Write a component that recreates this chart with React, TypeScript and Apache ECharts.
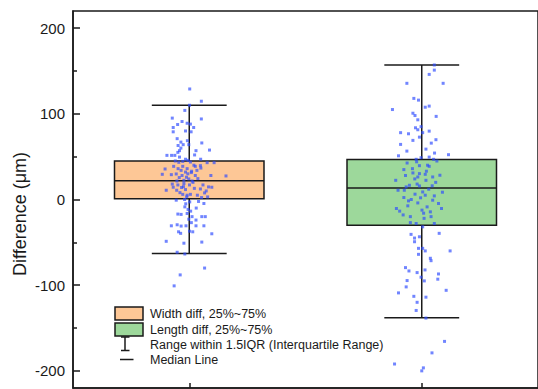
import React, { useEffect, useRef } from "react";
import * as echarts from "echarts";

// Categories and box statistics: [lower whisker, Q1, median, Q3, upper whisker]
const categories = ["Width diff", "Length diff"];
const boxStats: number[][] = [
  [-63, 1, 22, 45, 110],
  [-138, -30, 13.5, 46.8, 157],
];

// Jittered raw points: [horizontal jitter (fraction of category), difference in µm]
const widthPoints: number[][] = [
  [0.002, 129], [0.052, 114.7], [0.001, 110], [-0.019, 104], [-0.073, 95], [0.052, 94],
  [-0.031, 91], [-0.05, 87.5], [-0.009, 89], [0.005, 88], [-0.069, 84], [0.019, 84],
  [-0.069, 79], [-0.016, 80], [0.008, 79], [-0.052, 71], [-0.008, 68.6], [-0.036, 67],
  [0.054, 66], [-0.026, 64], [-0.048, 63], [-0.002, 64], [-0.036, 60], [-0.042, 57],
  [0.029, 57], [0.087, 57.7], [-0.049, 55], [-0.096, 51.5], [-0.076, 51.5], [-0.062, 51.5],
  [0.023, 52], [-0.042, 49.5], [-0.016, 47], [-0.005, 45.7], [0.049, 47], [-0.028, 44.5],
  [-0.045, 43.4], [0.005, 43.7], [0.077, 43], [0.107, 43], [-0.067, 38.7], [-0.028, 38.7],
  [0.026, 38.7], [0.048, 39.5], [-0.104, 35.6], [-0.048, 36], [-0.035, 34], [-0.009, 36],
  [0.033, 34], [0.05, 36.7], [-0.016, 32], [0.009, 31.4], [-0.116, 29.4], [-0.077, 29],
  [-0.056, 29.8], [-0.031, 28], [0.026, 28], [0.093, 28], [0.158, 27.5], [-0.043, 25.6],
  [-0.002, 24], [0.037, 24.4], [-0.053, 21.6], [-0.023, 22.4], [0.012, 21.6], [-0.073, 18],
  [-0.049, 17], [-0.023, 18.6], [0.001, 17], [0.059, 17], [0.083, 14.7], [0.097, 14.3],
  [-0.069, 14.3], [-0.033, 14], [0.022, 13], [0.048, 12.3], [-0.099, 10.8], [-0.054, 10.8],
  [-0.016, 11.6], [0.073, 10], [0.066, 7.7], [-0.028, 6], [-0.009, 5], [0.005, 6],
  [0.053, 2.3], [0.079, 3], [-0.011, 3], [-0.056, -0.8], [-0.02, 0], [0.002, -2.8],
  [0.04, -2.3], [0.063, -4.7], [-0.019, -8.6], [-0.005, -11.6], [0.006, -13.6], [-0.049, -17],
  [-0.035, -17.4], [-0.009, -16.3], [0.054, -20], [0.069, -20], [0.012, -20], [-0.002, -23],
  [0.029, -24], [0.009, -27], [-0.077, -30.7], [-0.052, -29.5], [-0.035, -31], [-0.014, -30.7],
  [0.029, -30.7], [0.063, -30.7], [-0.046, -37.7], [-0.037, -39.5], [0.001, -37], [0.015, -37.7],
  [0.097, -40], [-0.099, -48.8], [-0.023, -51], [0.054, -49.7], [-0.052, -61.6], [-0.019, -63.6],
  [0.066, -80], [-0.039, -88], [-0.065, -100.8],
  [-0.012, 26], [0.016, 20], [-0.006, 30], [0.02, 40], [-0.04, 8], [0.03, -10],
  [-0.025, 15], [0.01, 33], [-0.06, 45], [0.035, 5], [-0.015, -5],
];

const lengthPoints: number[][] = [
  [0.054, 157], [0.054, 151], [0.032, 146], [-0.064, 135.6], [0.092, 135.6], [-0.034, 118],
  [-0.014, 116], [0.032, 109], [0.015, 107.7], [-0.126, 105], [0.062, 97], [-0.038, 100.7],
  [-0.029, 98], [-0.017, 93], [-0.027, 83.7], [-0.003, 85], [-0.017, 81.4], [0.032, 79.8],
  [0.004, 78], [-0.091, 78], [-0.057, 76.7], [-0.01, 72.8], [-0.038, 69], [0.061, 69.8],
  [-0.091, 64.3], [0.041, 65.8], [0.018, 58.8], [-0.064, 56.5], [0.055, 54.2], [-0.1, 51],
  [0.115, 52.3], [-0.003, 48.8], [0.032, 49.5], [-0.024, 46.9], [0.051, 46.9], [0.065, 44.9],
  [-0.063, 42.6], [-0.01, 39.5], [0.032, 38.7], [-0.077, 34.9], [-0.038, 31], [-0.01, 30.2],
  [0.015, 29.4], [0.078, 28.3], [0.047, 26.3], [-0.017, 26.3], [-0.112, 22.4], [0.018, 22.4],
  [-0.053, 16.6], [-0.067, 14.7], [-0.01, 15.8], [-0.102, 10.8], [-0.075, 10.8], [0.004, 8.8],
  [0.089, 8.5], [-0.029, 6.2], [0.015, 5], [0.054, 4.2], [-0.077, 2.3], [-0.057, -1.6],
  [0.047, -0.8], [-0.017, -4], [0.072, -4.7], [-0.06, -7.4], [0.023, -8.6], [-0.109, -10.5],
  [0.085, -10.5], [-0.095, -13.6], [0.001, -12.4], [0.037, -14.4], [-0.049, -20], [0.04, -20],
  [-0.049, -27], [-0.024, -28], [0.004, -31.9], [0.054, -28], [-0.046, -40.7], [0.075, -39.5],
  [-0.031, -45], [-0.01, -43.5], [-0.031, -49.3], [-0.014, -57], [0.004, -57], [0.015, -60],
  [0.122, -60], [-0.014, -64], [0.037, -68.6], [0.04, -71.4], [-0.07, -79.5], [-0.055, -83.4],
  [0.014, -82.2], [-0.02, -85.3], [0.072, -86.9], [-0.003, -90.7], [0.069, -93], [-0.063, -94.6],
  [0.011, -95], [-0.067, -102], [0.105, -106], [-0.1, -109], [-0.034, -113], [0.018, -114],
  [-0.02, -120], [-0.024, -129.5], [0.018, -138.4], [0.098, -165.6], [0.044, -179], [-0.117, -192],
  [0.007, -196.5], [0, -200],
  [-0.04, 36], [0.02, 33], [-0.02, 18], [0.03, 12], [-0.045, 0], [0.01, -22], [-0.03, 24],
  [0.06, 20], [-0.08, -18], [0.025, 40], [-0.005, 2], [0.045, 16], [-0.07, 28], [0.008, -16],
  [-0.022, 44],
];

// Tick values
const majorTicks = [-200, -100, 0, 100, 200];
const minorTicks = [-150, -50, 50, 150];
const yTitle = "Difference (μm)";

const boxColors = ["#FDC796", "#9DD89B"];
const axisColor = "#1a1a1a";
const font = "'Liberation Sans', Arial, sans-serif";

export default function App() {
  const ref = useRef<HTMLDivElement>(null);

  useEffect(() => {
    if (!ref.current) return;
    const chart = echarts.init(ref.current, undefined, { renderer: "svg" });

    const renderBox = (params: any, api: any) => {
      const idx = api.value(0);
      const band = api.size([1, 0])[0];
      const boxW = band * 0.643;
      const capW = band * 0.322;
      const lo = api.coord([idx, api.value(1)]);
      const q1 = api.coord([idx, api.value(2)]);
      const med = api.coord([idx, api.value(3)]);
      const q3 = api.coord([idx, api.value(4)]);
      const hi = api.coord([idx, api.value(5)]);
      const cx = lo[0];
      const st = { stroke: axisColor, lineWidth: 1.5 };
      return {
        type: "group",
        children: [
          { type: "line", shape: { x1: cx, y1: hi[1], x2: cx, y2: lo[1] }, style: st },
          { type: "line", shape: { x1: cx - capW / 2, y1: hi[1], x2: cx + capW / 2, y2: hi[1] }, style: st },
          { type: "line", shape: { x1: cx - capW / 2, y1: lo[1], x2: cx + capW / 2, y2: lo[1] }, style: st },
          {
            type: "rect",
            shape: { x: cx - boxW / 2, y: q3[1], width: boxW, height: q1[1] - q3[1] },
            style: { fill: boxColors[params.dataIndex], stroke: axisColor, lineWidth: 1.5 },
          },
          { type: "line", shape: { x1: cx - boxW / 2, y1: med[1], x2: cx + boxW / 2, y2: med[1] }, style: st },
        ],
      };
    };

    const pointStyle = { color: "rgba(45,75,255,0.85)" };

    chart.setOption({
      animation: false,
      grid: {
        left: 73,
        right: -5,
        top: 11,
        bottom: 1,
        show: true,
        borderColor: axisColor,
        borderWidth: 1.5,
        backgroundColor: "transparent",
      },
      xAxis: [
        {
          type: "category",
          data: categories,
          boundaryGap: true,
          axisLine: { onZero: false, lineStyle: { color: axisColor, width: 1.5 } },
          axisTick: { show: true, alignWithLabel: true, inside: true, length: 5, lineStyle: { color: axisColor, width: 1.5 } },
          axisLabel: { show: false },
          splitLine: { show: false },
        },
        {
          type: "value",
          min: -0.5,
          max: 1.5,
          show: false,
          axisLine: { onZero: false },
        },
      ],
      yAxis: [
        {
          type: "value",
          min: -220,
          max: 220,
          axisLine: { show: true, onZero: false, lineStyle: { color: axisColor, width: 1.5 } },
          axisTick: { show: true, inside: true, length: 7, customValues: majorTicks, lineStyle: { color: axisColor, width: 1.5 } },
          axisLabel: { customValues: majorTicks, fontSize: 15, color: axisColor, fontFamily: font, margin: 8 },
          splitLine: { show: false },
        },
        {
          type: "value",
          min: -220,
          max: 220,
          position: "left",
          axisLine: { show: false, onZero: false },
          axisTick: { show: true, inside: true, length: 4, customValues: minorTicks, lineStyle: { color: axisColor, width: 1.5 } },
          axisLabel: { show: false },
          splitLine: { show: false },
        },
      ],
      series: [
        {
          type: "custom",
          xAxisIndex: 0,
          yAxisIndex: 0,
          renderItem: renderBox,
          data: boxStats.map((s, i) => [i, ...s]),
          z: 2,
        },
        {
          type: "scatter",
          xAxisIndex: 1,
          yAxisIndex: 0,
          symbol: "rect",
          symbolSize: 3,
          itemStyle: pointStyle,
          data: widthPoints.map((p) => [0 + p[0], p[1]]),
          z: 3,
        },
        {
          type: "scatter",
          xAxisIndex: 1,
          yAxisIndex: 0,
          symbol: "rect",
          symbolSize: 3,
          itemStyle: pointStyle,
          data: lengthPoints.map((p) => [1 + p[0], p[1]]),
          z: 3,
        },
      ],
      graphic: [
        {
          type: "text",
          x: 20,
          y: 214,
          rotation: Math.PI / 2,
          style: { text: yTitle, fontSize: 18, fontFamily: font, fill: axisColor, align: "center", verticalAlign: "middle" },
        },
        { type: "rect", shape: { x: 115, y: 307, width: 28, height: 13 }, style: { fill: boxColors[0], stroke: axisColor, lineWidth: 1.5 }, z: 10 },
        { type: "rect", shape: { x: 115, y: 323, width: 28, height: 13 }, style: { fill: boxColors[1], stroke: axisColor, lineWidth: 1.5 }, z: 10 },
        { type: "line", shape: { x1: 125, y1: 337, x2: 125, y2: 350.5 }, style: { stroke: axisColor, lineWidth: 1.5 }, z: 10 },
        { type: "line", shape: { x1: 121, y1: 337, x2: 129.5, y2: 337 }, style: { stroke: axisColor, lineWidth: 1.5 }, z: 10 },
        { type: "line", shape: { x1: 121, y1: 350.5, x2: 129.5, y2: 350.5 }, style: { stroke: axisColor, lineWidth: 1.5 }, z: 10 },
        { type: "line", shape: { x1: 120, y1: 359.5, x2: 133.5, y2: 359.5 }, style: { stroke: axisColor, lineWidth: 1.5 }, z: 10 },
        { type: "text", x: 150, y: 314, style: { text: "Width diff, 25%~75%", fontSize: 12.5, fontFamily: font, fill: axisColor, verticalAlign: "middle" }, z: 10 },
        { type: "text", x: 150, y: 329.5, style: { text: "Length diff, 25%~75%", fontSize: 12.5, fontFamily: font, fill: axisColor, verticalAlign: "middle" }, z: 10 },
        { type: "text", x: 150, y: 345, style: { text: "Range within 1.5IQR (Interquartile Range)", fontSize: 12.5, fontFamily: font, fill: axisColor, verticalAlign: "middle" }, z: 10 },
        { type: "text", x: 150, y: 360, style: { text: "Median Line", fontSize: 12.5, fontFamily: font, fill: axisColor, verticalAlign: "middle" }, z: 10 },
      ],
    });

    return () => chart.dispose();
  }, []);

  return <div ref={ref} style={{ width: 538, height: 389, position: "absolute", left: 0, top: 0 }} />;
}
